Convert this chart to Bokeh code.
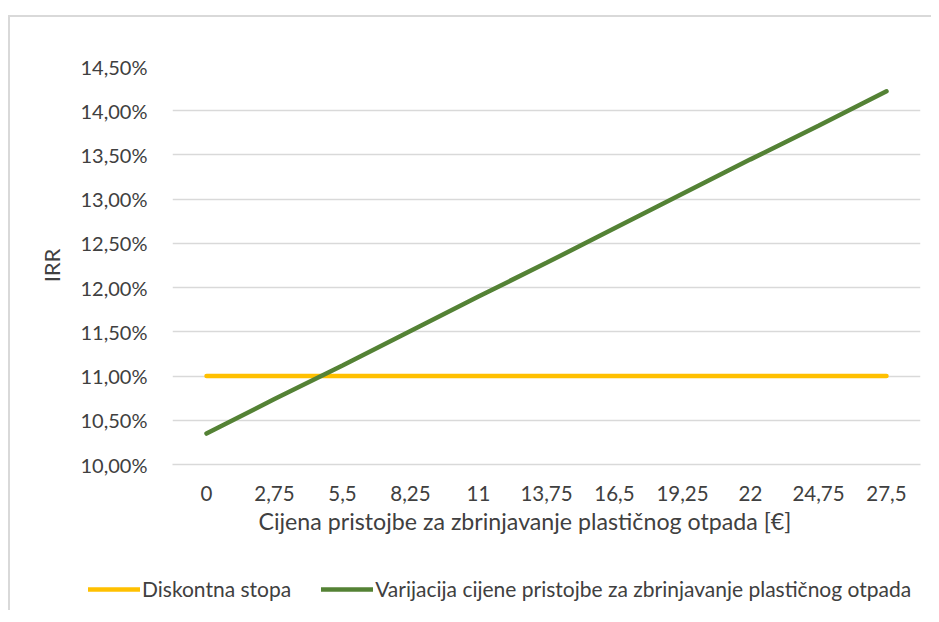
from bokeh.plotting import figure
from bokeh.layouts import column
from bokeh.models import (FactorRange, FixedTicker, CustomJSTickFormatter, Legend, LegendItem,
                          Range1d, Title)
from bokeh.embed import file_html
from bokeh.resources import INLINE

categories = ["0", "2,75", "5,5", "8,25", "11", "13,75", "16,5", "19,25", "22", "24,75", "27,5"]
discount_rate = [11.0] * 11
irr_variation = [10.35, 10.74, 11.12, 11.51, 11.90, 12.28, 12.67, 13.06, 13.45, 13.83, 14.22]
y_ticks = [10.0, 10.5, 11.0, 11.5, 12.0, 12.5, 13.0, 13.5, 14.0, 14.5]
series_names = ["Diskontna stopa", "Varijacija cijene pristojbe za zbrinjavanje plastičnog otpada"]
series_values = [discount_rate, irr_variation]
series_colors = ["#FFC000", "#548235"]

FONT = "Lato"
TXT = "#404040"

p = figure(width=921, height=543, x_range=FactorRange(*categories), y_range=(10.0, 14.5),
           output_backend="svg", toolbar_location=None,
           min_border_left=162, min_border_right=11, min_border_top=49, min_border_bottom=96)
p.frame_align = False
p.outline_line_color = None
p.x_range.range_padding = 0

for vals, c in zip(series_values, series_colors):
    p.line(x=categories, y=vals, line_color=c, line_width=4.5, line_cap="round")

p.xgrid.grid_line_color = None
p.ygrid.grid_line_color = "#d9d9d9"
p.ygrid.grid_line_width = 1.5
p.yaxis.ticker = FixedTicker(ticks=y_ticks)
p.yaxis.formatter = CustomJSTickFormatter(code="return tick.toFixed(2).replace('.', ',') + '%';")

for ax in (p.xaxis[0], p.yaxis[0]):
    ax.major_tick_line_color = None
    ax.minor_tick_line_color = None
    ax.major_label_text_font = FONT
    ax.major_label_text_font_size = "20.5px"
    ax.major_label_text_color = TXT
    ax.axis_label_text_font = FONT
    ax.axis_label_text_color = TXT
    ax.axis_label_text_font_style = "normal"

p.yaxis.major_label_text_font_size = "20px"
p.yaxis.axis_line_color = None
p.yaxis.major_label_standoff = 19
p.yaxis.axis_label = "IRR"
p.yaxis.axis_label_text_font_size = "22px"
p.yaxis.axis_label_standoff = 13
p.xaxis.axis_line_color = "#d9d9d9"
p.xaxis.axis_line_width = 1.5
p.xaxis.major_label_standoff = 15

xtitle = Title(text="Cijena pristojbe za zbrinjavanje plastičnog otpada [€]", align="left", offset=86,
               text_font=FONT, text_font_size="23.2px", text_font_style="normal", text_color=TXT, standoff=2)
p.add_layout(xtitle, "below")

# legend strip (series drawn out of its view; only the legend is visible)
p2 = figure(width=921, height=50, x_range=FactorRange(*categories), y_range=Range1d(0, 1),
            output_backend="svg", toolbar_location=None,
            min_border_left=0, min_border_right=0, min_border_top=0, min_border_bottom=0)
p2.frame_align = False
p2.axis.visible = False
p2.grid.visible = False
p2.outline_line_color = None
lr = [p2.line(x=categories, y=vals, line_color=c, line_width=4.5, line_cap="round")
      for vals, c in zip(series_values, series_colors)]
legend = Legend(items=[LegendItem(label=n, renderers=[r]) for n, r in zip(series_names, lr)],
                orientation="horizontal", location=(78, 9),
                glyph_width=52, glyph_height=20, label_standoff=2, spacing=30, padding=0, margin=0,
                border_line_color=None, background_fill_alpha=0,
                label_text_font=FONT, label_text_font_size="21px", label_text_color=TXT)
p2.add_layout(legend, "center")

layout = column(p, p2, spacing=0,
                styles={"margin-top": "15px", "margin-left": "8px",
                        "border-left": "2px solid #d9d9d9", "border-top": "2px solid #d9d9d9"})

open("out.html", "w").write(file_html(layout, INLINE))
